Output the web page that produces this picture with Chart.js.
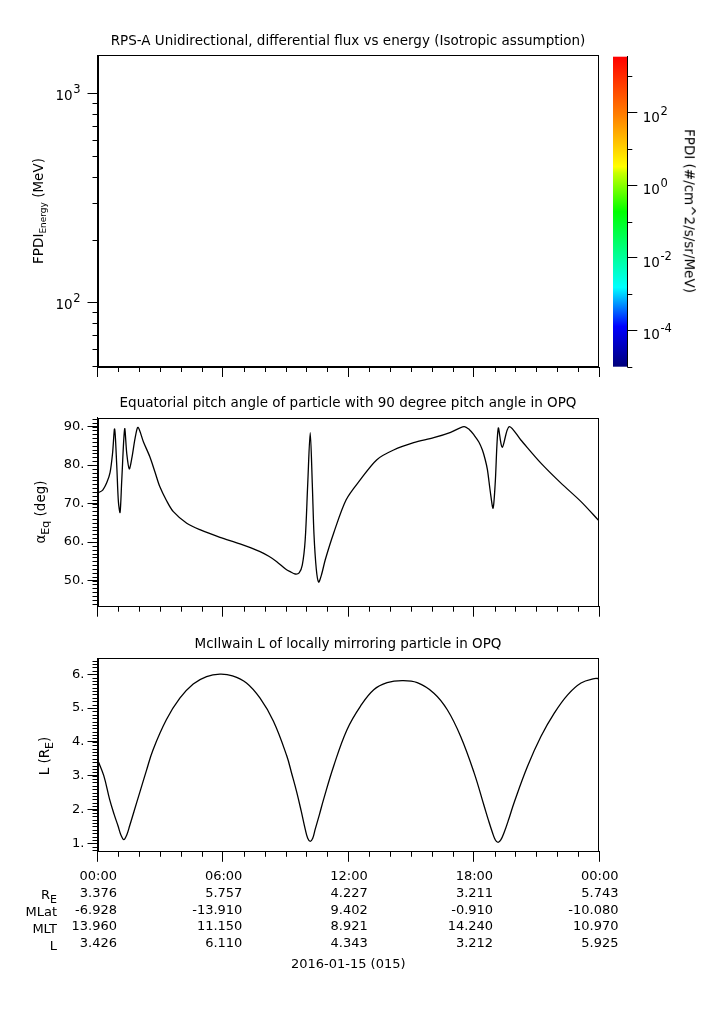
<!DOCTYPE html>
<html><head><meta charset="utf-8">
<script src="https://cdn.jsdelivr.net/npm/chart.js@4.4.1/dist/chart.umd.min.js"></script>
<style>
body{margin:0;background:#fff;}
#wrap{position:relative;width:725px;height:1019px;overflow:hidden;font-family:"DejaVu Sans",sans-serif;color:#000;background:#fff;}
canvas{position:absolute;}
.t{position:absolute;white-space:nowrap;font-size:13.5px;line-height:1;}
.c{transform:translate(-50%,-50%);}
.rl{transform:translate(-50%,-50%) rotate(-90deg);}
.rr{transform:translate(-50%,-50%) rotate(90deg);}
.row{position:absolute;left:0;width:57px;text-align:right;font-size:13px;line-height:1;transform:translateY(-50%);}
sub{font-size:9px;vertical-align:-3px;line-height:0;}
sub.b{font-size:11px;vertical-align:-4px;}
</style></head><body><div id="wrap">
<canvas id="cTop" width="610" height="400" style="left:0;top:0"></canvas>
<canvas id="cBar" width="125" height="340" style="left:600px;top:40px"></canvas>
<canvas id="cMid" width="610" height="240" style="left:0;top:390px"></canvas>
<canvas id="cBot" width="725" height="360" style="left:0;top:630px"></canvas>

<div class="t c" style="left:348px;top:41px">RPS-A Unidirectional, differential flux vs energy (Isotropic assumption)</div>
<div class="t c" style="left:348px;top:403px">Equatorial pitch angle of particle with 90 degree pitch angle in OPQ</div>
<div class="t c" style="left:348px;top:644px">McIlwain L of locally mirroring particle in OPQ</div>

<div class="t rl" style="left:39px;top:211px">FPDI<sub>Energy</sub> (MeV)</div>
<div class="t rl" style="left:41px;top:512px">α<sub class="b">Eq</sub> (deg)</div>
<div class="t rl" style="left:45px;top:756px">L (R<sub class="b">E</sub>)</div>
<div class="t rr" style="left:689px;top:211px">FPDI (#/cm^2/s/sr/MeV)</div>

<div class="row" style="top:894px">R<sub class="b">E</sub></div>
<div class="row" style="top:911px">MLat</div>
<div class="row" style="top:928px">MLT</div>
<div class="row" style="top:944.5px">L</div>
</div>
<script>
// ---------------- data ----------------
const timeTickHours = [0, 6, 12, 18, 24];
const timeLabels = ['00:00', '06:00', '12:00', '18:00', '00:00'];
const reLabels   = ['3.376', '5.757', '4.227', '3.211', '5.743'];
const mlatLabels = ['-6.928', '-13.910', '9.402', '-0.910', '-10.080'];
const mltLabels  = ['13.960', '11.150', '8.921', '14.240', '10.970'];
const lLabels    = ['3.426', '6.110', '4.343', '3.212', '5.925'];
const dateLabel  = '2016-01-15 (015)';

const energyTickExps = [2, 3];          // 10^2, 10^3 MeV
const fluxTickExps   = [-4, -2, 0, 2];  // colour bar labels
const fluxMinorExps  = [-5, -3, -1, 1, 3];
const pitchTicks = [50, 60, 70, 80, 90];
const lTicks = [1, 2, 3, 4, 5, 6];

// Equatorial pitch angle (deg) vs hours of day
const pitchT = [0.00,0.25,0.45,0.60,0.72,0.82,0.92,1.00,1.08,1.16,1.30,1.40,1.52,1.65,1.80,1.94,2.20,2.50,2.75,2.98,3.30,3.63,4.27,4.90,5.86,6.82,7.78,8.20,8.58,9.00,9.22,9.46,9.65,9.80,9.94,10.06,10.18,10.28,10.36,10.47,10.58,10.72,10.90,11.30,11.90,12.58,13.37,14.17,15.13,16.09,16.90,17.54,17.80,18.02,18.25,18.42,18.55,18.66,18.80,18.93,19.03,19.18,19.37,19.70,20.26,21.22,22.18,23.14,24.00];
const pitchV = [72.7,73.5,75.5,78.0,83.0,89.4,80.0,70.5,67.7,76.0,89.4,83.0,79.0,82.0,87.0,89.8,86.0,82.2,78.2,74.4,70.8,67.9,64.9,63.2,61.2,59.5,57.5,56.3,54.9,53.0,52.3,51.7,52.0,54.0,60.6,75.0,88.4,75.0,62.0,53.0,49.6,51.5,55.4,62.3,71.0,76.2,81.4,83.9,85.8,87.1,88.5,90.0,89.2,87.8,86.0,83.9,81.5,78.8,73.0,68.8,75.0,89.6,84.6,90.0,86.5,80.5,75.3,70.5,65.5];

// McIlwain L vs hours of day
const lT = [0.00,0.30,0.58,0.80,0.98,1.12,1.26,1.40,1.54,1.75,2.02,2.34,2.66,3.30,3.94,4.58,5.22,5.86,6.46,7.13,7.78,8.42,9.06,9.30,9.54,9.75,9.94,10.06,10.18,10.30,10.42,10.62,10.82,11.30,11.94,12.58,13.22,13.86,14.58,15.30,16.10,16.74,17.38,18.02,18.50,18.70,18.90,19.04,19.17,19.30,19.46,19.70,19.94,20.58,21.22,21.86,22.50,23.14,23.78,24.00];
const lV = [3.48,3.00,2.30,1.85,1.52,1.25,1.11,1.25,1.52,1.95,2.50,3.15,3.77,4.66,5.29,5.71,5.93,6.00,5.95,5.74,5.29,4.61,3.58,3.05,2.50,1.95,1.42,1.15,1.06,1.15,1.42,1.85,2.30,3.28,4.36,5.05,5.54,5.75,5.81,5.75,5.44,4.95,4.16,3.09,2.11,1.70,1.32,1.10,1.03,1.10,1.32,1.75,2.21,3.28,4.16,4.85,5.39,5.74,5.87,5.87];

// ---------------- helpers ----------------
const FONT = "'DejaVu Sans', sans-serif";
Chart.defaults.font.family = FONT;
Chart.defaults.font.size = 13;
Chart.defaults.color = '#000';
Chart.defaults.animation = false;
Chart.defaults.responsive = false;
Chart.defaults.plugins.legend.display = false;
Chart.defaults.plugins.tooltip.enabled = false;

const hourMinor = [];
for (let h = 0; h <= 24; h++) if (h % 6) hourMinor.push(h);

function logMinor(lo, hi) {
  const out = [];
  for (let e = lo; e <= hi; e++) for (let m = 2; m <= 9; m++) out.push(m * Math.pow(10, e));
  return out;
}
function stepMinor(a, b, st) {
  const out = [];
  for (let v = a; v <= b + 1e-9; v += st) out.push(+v.toFixed(3));
  return out;
}

function minorPlugin(list) {
  return {
    id: 'minorTicks',
    afterDraw(chart) {
      const c = chart.ctx, a = chart.chartArea;
      c.save(); c.strokeStyle = '#000'; c.lineWidth = 1;
      list.forEach(ax => {
        const s = chart.scales[ax.id];
        ax.values.forEach(v => {
          if (v < s.min || v > s.max) return;
          const p = s.getPixelForValue(v);
          c.beginPath();
          if (s.isHorizontal()) {
            const px = Math.round(p) + 0.5;
            c.moveTo(px, a.bottom); c.lineTo(px, a.bottom + ax.len);
          } else {
            const py = Math.round(p) + 0.5;
            if (ax.side === 'right') { c.moveTo(a.right, py); c.lineTo(a.right + ax.len, py); }
            else { c.moveTo(a.left, py); c.lineTo(a.left - ax.len, py); }
          }
          c.stroke();
        });
      });
      c.restore();
    }
  };
}

const framePlugin = {
  id: 'frame',
  afterDraw(chart) {
    const c = chart.ctx, a = chart.chartArea;
    c.save(); c.strokeStyle = '#000'; c.lineWidth = 1;
    const l = Math.round(a.left) + 0.5, r = Math.round(a.right) - 0.5;
    const t = Math.round(a.top) + 0.5, b = Math.round(a.bottom) - 0.5;
    c.strokeRect(l, t, r - l, b - t);
    c.restore();
  }
};

function powPlugin(axisId, exps, cfg) {
  return {
    id: 'pow10',
    afterDraw(chart) {
      const c = chart.ctx, s = chart.scales[axisId];
      c.save(); c.fillStyle = '#000'; c.textBaseline = 'alphabetic';
      exps.forEach(e => {
        const y = s.getPixelForValue(Math.pow(10, e));
        const base = '10', ex = String(e);
        c.font = '13.5px ' + FONT;
        const wb = c.measureText(base).width;
        c.font = '11.5px ' + FONT;
        const we = c.measureText(ex).width;
        let x0 = cfg.align === 'right' ? cfg.x - wb - we : cfg.x;
        c.font = '13.5px ' + FONT;
        c.textAlign = 'left';
        c.fillText(base, x0, y + cfg.dy);
        c.font = '11.5px ' + FONT;
        c.fillText(ex, x0 + wb + 0.5, y + cfg.dy - 7);
      });
      c.restore();
    }
  };
}

function xAxis(extra) {
  return Object.assign({
    type: 'linear', min: 0, max: 24,
    afterBuildTicks: s => { s.ticks = timeTickHours.map(v => ({ value: v })); },
    grid: { drawOnChartArea: false, drawTicks: true, tickLength: 10, color: '#000', tickColor: '#000' },
    border: { display: true, color: '#000' },
    ticks: { callback: () => '', autoSkip: false, maxRotation: 0, padding: 0 }
  }, extra);
}

const lineStyle = { borderColor: '#000', borderWidth: 1.3, pointRadius: 0, fill: false, tension: 0.4 };

// ---------------- top panel (empty spectrogram) ----------------
new Chart(document.getElementById('cTop'), {
  type: 'line',
  data: { datasets: [] },
  options: {
    layout: { padding: { left: 0, top: 55, right: 11, bottom: 0 } },
    scales: {
      x: xAxis({ afterFit: s => { s.height = 33; } }),
      y: {
        type: 'logarithmic', min: 49.4, max: 1524,
        afterBuildTicks: s => { s.ticks = energyTickExps.map(e => ({ value: Math.pow(10, e) })); },
        afterFit: s => { s.width = 97.5; },
        grid: { drawOnChartArea: false, tickLength: 10, color: '#000', tickColor: '#000' },
        border: { display: true, color: '#000' },
        ticks: { callback: () => '', padding: 0 }
      }
    }
  },
  plugins: [framePlugin,
    minorPlugin([{ id: 'x', values: hourMinor, len: 5 }, { id: 'y', values: logMinor(1, 3), len: 5 }]),
    powPlugin('y', energyTickExps, { align: 'right', x: 80, dy: 6.5 })]
});

// ---------------- colour bar ----------------
const gradPlugin = {
  id: 'grad',
  beforeDraw(chart) {
    const c = chart.ctx, a = chart.chartArea;
    const g = c.createLinearGradient(0, a.bottom, 0, a.top);
    g.addColorStop(0.00, '#00007a');
    g.addColorStop(0.13, '#0000ff');
    g.addColorStop(0.256, '#00ffff');
    g.addColorStop(0.50, '#00ff00');
    g.addColorStop(0.625, '#c8ff00');
    g.addColorStop(0.645, '#ffff00');
    g.addColorStop(0.81, '#ff8000');
    g.addColorStop(1.00, '#ff0000');
    c.save(); c.fillStyle = g;
    c.fillRect(a.left, a.top, a.right - a.left, a.bottom - a.top);
    c.restore();
  }
};
new Chart(document.getElementById('cBar'), {
  type: 'line',
  data: { datasets: [] },
  options: {
    layout: { padding: { left: 13, top: 16.7, right: 0, bottom: 13.3 } },
    scales: {
      x: { type: 'linear', display: false, min: 0, max: 1 },
      y: {
        type: 'logarithmic', position: 'right', min: 1e-5, max: 3500,
        afterBuildTicks: s => { s.ticks = fluxTickExps.map(e => ({ value: Math.pow(10, e) })); },
        afterFit: s => { s.width = 97.7; },
        grid: { drawOnChartArea: false, tickLength: 10, color: '#000', tickColor: '#000' },
        border: { display: true, color: '#000' },
        ticks: { callback: () => '', padding: 0 }
      }
    }
  },
  plugins: [gradPlugin,
    minorPlugin([{ id: 'y', values: fluxMinorExps.map(e => Math.pow(10, e)), len: 5, side: 'right' }]),
    powPlugin('y', fluxTickExps, { align: 'left', x: 42.7, dy: 9 })]
});

// ---------------- middle panel: pitch angle ----------------
new Chart(document.getElementById('cMid'), {
  type: 'line',
  data: { datasets: [Object.assign({ label: 'alpha_Eq', data: pitchT.map((t, i) => ({ x: t, y: pitchV[i] })) }, lineStyle, { tension: 0.3 })] },
  options: {
    layout: { padding: { left: 0, top: 27.7, right: 11, bottom: 0 } },
    scales: {
      x: xAxis({ afterFit: s => { s.height = 23.3; } }),
      y: {
        type: 'linear', min: 43.2, max: 92.3,
        afterBuildTicks: s => { s.ticks = pitchTicks.map(v => ({ value: v })); },
        afterFit: s => { s.width = 97.5; },
        grid: { drawOnChartArea: false, tickLength: 10, color: '#000', tickColor: '#000' },
        border: { display: true, color: '#000' },
        ticks: { callback: v => v + '.', padding: 3, font: { size: 13 } }
      }
    }
  },
  plugins: [framePlugin,
    minorPlugin([{ id: 'x', values: hourMinor, len: 5 }, { id: 'y', values: stepMinor(44, 92, 1), len: 5 }])]
});

// ---------------- bottom panel: McIlwain L ----------------
new Chart(document.getElementById('cBot'), {
  type: 'line',
  data: { datasets: [Object.assign({ label: 'L', data: lT.map((t, i) => ({ x: t, y: lV[i] })) }, lineStyle)] },
  options: {
    layout: { padding: { left: 0, top: 28.3, right: 126, bottom: 17.2 } },
    scales: {
      x: xAxis({
        afterFit: s => { s.height = 121; },
        ticks: {
          callback: (v, i) => [timeLabels[i], reLabels[i], mlatLabels[i], mltLabels[i], lLabels[i]],
          autoSkip: false, maxRotation: 0, align: 'end', labelOffset: 19.5, padding: 7,
          font: { size: 13, lineHeight: 1.28 }
        },
        title: { display: true, text: dateLabel, font: { size: 13, lineHeight: 1.2 }, padding: { top: 4, bottom: 0 } }
      }),
      y: {
        type: 'linear', min: 0.75, max: 6.47,
        afterBuildTicks: s => { s.ticks = lTicks.map(v => ({ value: v })); },
        afterFit: s => { s.width = 97.5; },
        grid: { drawOnChartArea: false, tickLength: 10, color: '#000', tickColor: '#000' },
        border: { display: true, color: '#000' },
        ticks: { callback: v => v + '.', padding: 3, font: { size: 13 } }
      }
    }
  },
  plugins: [framePlugin,
    minorPlugin([{ id: 'x', values: hourMinor, len: 5 }, { id: 'y', values: stepMinor(0.8, 6.4, 0.1), len: 5 }])]
});
</script>
</body></html>
